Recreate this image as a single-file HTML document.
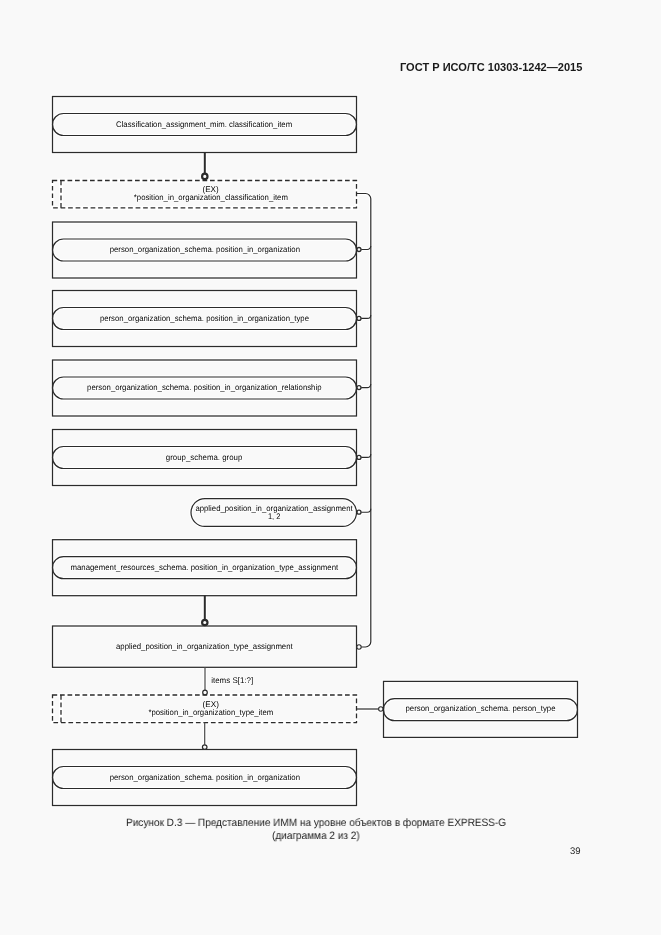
<!DOCTYPE html>
<html><head><meta charset="utf-8"><style>
html,body{margin:0;padding:0;background:#f9f9f9;}
body{width:661px;height:935px;position:relative;overflow:hidden;font-family:"Liberation Sans",sans-serif;}
.hdr{will-change:transform;position:absolute;left:399.9px;top:61.3px;font-size:11.05px;font-weight:bold;color:#1a1a1a;white-space:nowrap;}
.cap{position:absolute;font-size:10px;color:#222;white-space:nowrap;will-change:transform;text-rendering:geometricPrecision;}
svg{position:absolute;left:0;top:0;will-change:transform;}
svg text{font-family:"Liberation Sans",sans-serif;font-size:8.2px;fill:#000;stroke:#fff;stroke-width:1.2px;paint-order:stroke;text-rendering:geometricPrecision;}
</style></head><body>
<svg width="661" height="935" viewBox="0 0 661 935">
<rect x="52.5" y="96.5" width="304.0" height="56.0" fill="none" stroke="#ffffff" stroke-width="3.55"/>
<rect x="52.5" y="113.5" width="304.0" height="22" rx="11" ry="11" fill="none" stroke="#ffffff" stroke-width="3.50"/>
<rect x="52.5" y="222.0" width="304.0" height="56.0" fill="none" stroke="#ffffff" stroke-width="3.55"/>
<rect x="52.5" y="239.0" width="304.0" height="22" rx="11" ry="11" fill="none" stroke="#ffffff" stroke-width="3.50"/>
<rect x="52.5" y="290.5" width="304.0" height="56.0" fill="none" stroke="#ffffff" stroke-width="3.55"/>
<rect x="52.5" y="307.5" width="304.0" height="22" rx="11" ry="11" fill="none" stroke="#ffffff" stroke-width="3.50"/>
<rect x="52.5" y="360.0" width="304.0" height="56.0" fill="none" stroke="#ffffff" stroke-width="3.55"/>
<rect x="52.5" y="377.0" width="304.0" height="22" rx="11" ry="11" fill="none" stroke="#ffffff" stroke-width="3.50"/>
<rect x="52.5" y="429.5" width="304.0" height="56.0" fill="none" stroke="#ffffff" stroke-width="3.55"/>
<rect x="52.5" y="446.5" width="304.0" height="22" rx="11" ry="11" fill="none" stroke="#ffffff" stroke-width="3.50"/>
<rect x="52.5" y="539.7" width="304.0" height="56.0" fill="none" stroke="#ffffff" stroke-width="3.55"/>
<rect x="52.5" y="556.7" width="304.0" height="22" rx="11" ry="11" fill="none" stroke="#ffffff" stroke-width="3.50"/>
<rect x="52.5" y="749.5" width="304.0" height="56.0" fill="none" stroke="#ffffff" stroke-width="3.55"/>
<rect x="52.5" y="766.5" width="304.0" height="22" rx="11" ry="11" fill="none" stroke="#ffffff" stroke-width="3.50"/>
<rect x="52.5" y="626" width="304.0" height="41.3" fill="none" stroke="#ffffff" stroke-width="3.55"/>
<rect x="52.5" y="180.5" width="304.0" height="27.30000000000001" fill="none" stroke="#ffffff" stroke-width="3.60"/>
<line x1="61.0" y1="180.5" x2="61.0" y2="207.8" stroke="#ffffff" stroke-width="3.60"/>
<rect x="52.5" y="695" width="304.0" height="27.600000000000023" fill="none" stroke="#ffffff" stroke-width="3.60"/>
<line x1="61.0" y1="695" x2="61.0" y2="722.6" stroke="#ffffff" stroke-width="3.60"/>
<rect x="191" y="498.6" width="165.5" height="27.8" rx="13.9" ry="13.9" fill="none" stroke="#ffffff" stroke-width="3.50"/>
<line x1="204.8" y1="152.5" x2="204.8" y2="173.5" stroke="#ffffff" stroke-width="4.30"/>
<circle cx="204.8" cy="176.4" r="2.7" fill="#ffffff" stroke="#ffffff" stroke-width="4.50"/>
<line x1="204.8" y1="595.5" x2="204.8" y2="619.6" stroke="#ffffff" stroke-width="4.30"/>
<circle cx="204.8" cy="622.5" r="2.7" fill="#ffffff" stroke="#ffffff" stroke-width="4.50"/>
<line x1="205" y1="667" x2="205" y2="690.2" stroke="#ffffff" stroke-width="3.50"/>
<circle cx="205" cy="692.5" r="2.3" fill="#ffffff" stroke="#ffffff" stroke-width="3.50"/>
<line x1="204.7" y1="722.6" x2="204.7" y2="744.8" stroke="#ffffff" stroke-width="3.50"/>
<circle cx="204.7" cy="747.1" r="2.3" fill="#ffffff" stroke="#ffffff" stroke-width="3.50"/>
<path d="M356.5 193.5 H365.5 A5.3 5.3 0 0 1 370.8 198.8 V641.7 A5.3 5.3 0 0 1 365.5 647 H361.3" fill="none" stroke="#ffffff" stroke-width="3.50"/>
<circle cx="359" cy="647" r="2.2" fill="#ffffff" stroke="#ffffff" stroke-width="3.40"/>
<path d="M361.2 249.5 H367.3 A3.5 3.5 0 0 0 370.8 246.0" fill="none" stroke="#ffffff" stroke-width="3.40"/>
<circle cx="359" cy="249.5" r="2.0" fill="#ffffff" stroke="#ffffff" stroke-width="3.60"/>
<path d="M361.2 318.4 H367.3 A3.5 3.5 0 0 0 370.8 314.9" fill="none" stroke="#ffffff" stroke-width="3.40"/>
<circle cx="359" cy="318.4" r="2.0" fill="#ffffff" stroke="#ffffff" stroke-width="3.60"/>
<path d="M361.2 387.6 H367.3 A3.5 3.5 0 0 0 370.8 384.1" fill="none" stroke="#ffffff" stroke-width="3.40"/>
<circle cx="359" cy="387.6" r="2.0" fill="#ffffff" stroke="#ffffff" stroke-width="3.60"/>
<path d="M361.2 457.4 H367.3 A3.5 3.5 0 0 0 370.8 453.9" fill="none" stroke="#ffffff" stroke-width="3.40"/>
<circle cx="359" cy="457.4" r="2.0" fill="#ffffff" stroke="#ffffff" stroke-width="3.60"/>
<path d="M361.2 512.2 H367.3 A3.5 3.5 0 0 0 370.8 508.70000000000005" fill="none" stroke="#ffffff" stroke-width="3.40"/>
<circle cx="359" cy="512.2" r="2.0" fill="#ffffff" stroke="#ffffff" stroke-width="3.60"/>
<rect x="383.5" y="681.4" width="194" height="56" fill="none" stroke="#ffffff" stroke-width="3.55"/>
<rect x="383.5" y="698.7" width="194" height="22" rx="11" ry="11" fill="none" stroke="#ffffff" stroke-width="3.50"/>
<line x1="356.5" y1="709" x2="378.6" y2="709" stroke="#ffffff" stroke-width="3.50"/>
<circle cx="380.8" cy="709" r="2.2" fill="#ffffff" stroke="#ffffff" stroke-width="3.40"/>
<rect x="52.5" y="96.5" width="304.0" height="56.0" fill="none" stroke="#2b2b2b" stroke-width="1.25"/>
<rect x="52.5" y="113.5" width="304.0" height="22" rx="11" ry="11" fill="none" stroke="#2b2b2b" stroke-width="1.2"/>
<text x="116.00" y="127.1" textLength="176.10" lengthAdjust="spacingAndGlyphs">Classification_assignment_mim. classification_item</text>
<rect x="52.5" y="222.0" width="304.0" height="56.0" fill="none" stroke="#2b2b2b" stroke-width="1.25"/>
<rect x="52.5" y="239.0" width="304.0" height="22" rx="11" ry="11" fill="none" stroke="#2b2b2b" stroke-width="1.2"/>
<text x="109.70" y="251.6" textLength="190.30" lengthAdjust="spacingAndGlyphs">person_organization_schema. position_in_organization</text>
<rect x="52.5" y="290.5" width="304.0" height="56.0" fill="none" stroke="#2b2b2b" stroke-width="1.25"/>
<rect x="52.5" y="307.5" width="304.0" height="22" rx="11" ry="11" fill="none" stroke="#2b2b2b" stroke-width="1.2"/>
<text x="99.90" y="320.8" textLength="209.10" lengthAdjust="spacingAndGlyphs">person_organization_schema. position_in_organization_type</text>
<rect x="52.5" y="360.0" width="304.0" height="56.0" fill="none" stroke="#2b2b2b" stroke-width="1.25"/>
<rect x="52.5" y="377.0" width="304.0" height="22" rx="11" ry="11" fill="none" stroke="#2b2b2b" stroke-width="1.2"/>
<text x="87.10" y="390.0" textLength="234.40" lengthAdjust="spacingAndGlyphs">person_organization_schema. position_in_organization_relationship</text>
<rect x="52.5" y="429.5" width="304.0" height="56.0" fill="none" stroke="#2b2b2b" stroke-width="1.25"/>
<rect x="52.5" y="446.5" width="304.0" height="22" rx="11" ry="11" fill="none" stroke="#2b2b2b" stroke-width="1.2"/>
<text x="165.80" y="459.8" textLength="76.50" lengthAdjust="spacingAndGlyphs">group_schema. group</text>
<rect x="52.5" y="539.7" width="304.0" height="56.0" fill="none" stroke="#2b2b2b" stroke-width="1.25"/>
<rect x="52.5" y="556.7" width="304.0" height="22" rx="11" ry="11" fill="none" stroke="#2b2b2b" stroke-width="1.2"/>
<text x="70.50" y="570.3000000000001" textLength="267.70" lengthAdjust="spacingAndGlyphs">management_resources_schema. position_in_organization_type_assignment</text>
<rect x="52.5" y="749.5" width="304.0" height="56.0" fill="none" stroke="#2b2b2b" stroke-width="1.25"/>
<rect x="52.5" y="766.5" width="304.0" height="22" rx="11" ry="11" fill="none" stroke="#2b2b2b" stroke-width="1.2"/>
<text x="109.70" y="779.9" textLength="190.30" lengthAdjust="spacingAndGlyphs">person_organization_schema. position_in_organization</text>
<rect x="52.5" y="626" width="304.0" height="41.3" fill="none" stroke="#2b2b2b" stroke-width="1.25"/>
<text x="116.00" y="649.4" textLength="176.70" lengthAdjust="spacingAndGlyphs">applied_position_in_organization_type_assignment</text>
<rect x="52.5" y="180.5" width="304.0" height="27.30000000000001" fill="none" stroke="#2b2b2b" stroke-width="1.3" stroke-dasharray="4.7 2.8"/>
<line x1="61.0" y1="180.5" x2="61.0" y2="207.8" stroke="#2b2b2b" stroke-width="1.3" stroke-dasharray="4.7 2.8"/>
<text x="202.50" y="191.7" textLength="16.20" lengthAdjust="spacingAndGlyphs">(EX)</text>
<text x="133.80" y="200.35" textLength="154.10" lengthAdjust="spacingAndGlyphs">*position_in_organization_classification_item</text>
<rect x="52.5" y="695" width="304.0" height="27.600000000000023" fill="none" stroke="#2b2b2b" stroke-width="1.3" stroke-dasharray="4.7 2.8"/>
<line x1="61.0" y1="695" x2="61.0" y2="722.6" stroke="#2b2b2b" stroke-width="1.3" stroke-dasharray="4.7 2.8"/>
<text x="202.60" y="707.1" textLength="16.30" lengthAdjust="spacingAndGlyphs">(EX)</text>
<text x="148.40" y="715.35" textLength="124.90" lengthAdjust="spacingAndGlyphs">*position_in_organization_type_item</text>
<rect x="191" y="498.6" width="165.5" height="27.8" rx="13.9" ry="13.9" fill="none" stroke="#2b2b2b" stroke-width="1.2"/>
<text x="195.40" y="510.6" textLength="157.30" lengthAdjust="spacingAndGlyphs">applied_position_in_organization_assignment</text>
<text x="267.90" y="519.2" textLength="12.50" lengthAdjust="spacingAndGlyphs">1, 2</text>
<line x1="204.8" y1="152.5" x2="204.8" y2="173.5" stroke="#2b2b2b" stroke-width="2"/>
<circle cx="204.8" cy="176.4" r="2.7" fill="#f9f9f9" stroke="#2b2b2b" stroke-width="2.2"/>
<line x1="204.8" y1="595.5" x2="204.8" y2="619.6" stroke="#2b2b2b" stroke-width="2"/>
<circle cx="204.8" cy="622.5" r="2.7" fill="#f9f9f9" stroke="#2b2b2b" stroke-width="2.2"/>
<line x1="205" y1="667" x2="205" y2="690.2" stroke="#4a4a4a" stroke-width="1.2"/>
<circle cx="205" cy="692.5" r="2.3" fill="#f9f9f9" stroke="#2b2b2b" stroke-width="1.2"/>
<line x1="204.7" y1="722.6" x2="204.7" y2="744.8" stroke="#4a4a4a" stroke-width="1.2"/>
<circle cx="204.7" cy="747.1" r="2.3" fill="#f9f9f9" stroke="#2b2b2b" stroke-width="1.2"/>
<text x="211.20" y="683.1" textLength="42.00" lengthAdjust="spacingAndGlyphs">items S[1:?]</text>
<path d="M356.5 193.5 H365.5 A5.3 5.3 0 0 1 370.8 198.8 V641.7 A5.3 5.3 0 0 1 365.5 647 H361.3" fill="none" stroke="#2b2b2b" stroke-width="1.2"/>
<circle cx="359" cy="647" r="2.2" fill="#f9f9f9" stroke="#2b2b2b" stroke-width="1.1"/>
<path d="M361.2 249.5 H367.3 A3.5 3.5 0 0 0 370.8 246.0" fill="none" stroke="#2b2b2b" stroke-width="1.1"/>
<circle cx="359" cy="249.5" r="2.0" fill="#f9f9f9" stroke="#2b2b2b" stroke-width="1.3"/>
<path d="M361.2 318.4 H367.3 A3.5 3.5 0 0 0 370.8 314.9" fill="none" stroke="#2b2b2b" stroke-width="1.1"/>
<circle cx="359" cy="318.4" r="2.0" fill="#f9f9f9" stroke="#2b2b2b" stroke-width="1.3"/>
<path d="M361.2 387.6 H367.3 A3.5 3.5 0 0 0 370.8 384.1" fill="none" stroke="#2b2b2b" stroke-width="1.1"/>
<circle cx="359" cy="387.6" r="2.0" fill="#f9f9f9" stroke="#2b2b2b" stroke-width="1.3"/>
<path d="M361.2 457.4 H367.3 A3.5 3.5 0 0 0 370.8 453.9" fill="none" stroke="#2b2b2b" stroke-width="1.1"/>
<circle cx="359" cy="457.4" r="2.0" fill="#f9f9f9" stroke="#2b2b2b" stroke-width="1.3"/>
<path d="M361.2 512.2 H367.3 A3.5 3.5 0 0 0 370.8 508.70000000000005" fill="none" stroke="#2b2b2b" stroke-width="1.1"/>
<circle cx="359" cy="512.2" r="2.0" fill="#f9f9f9" stroke="#2b2b2b" stroke-width="1.3"/>
<rect x="383.5" y="681.4" width="194" height="56" fill="none" stroke="#2b2b2b" stroke-width="1.25"/>
<rect x="383.5" y="698.7" width="194" height="22" rx="11" ry="11" fill="none" stroke="#2b2b2b" stroke-width="1.2"/>
<text x="405.50" y="711.3" textLength="150.00" lengthAdjust="spacingAndGlyphs">person_organization_schema. person_type</text>
<line x1="356.5" y1="709" x2="378.6" y2="709" stroke="#2b2b2b" stroke-width="1.2"/>
<circle cx="380.8" cy="709" r="2.2" fill="#f9f9f9" stroke="#2b2b2b" stroke-width="1.1"/>
</svg>
<div class="hdr">ГОСТ Р ИСО/ТС 10303-1242—2015</div>
<div class="cap" style="left:125.6px;top:817.2px;font-size:10.7px;transform:scaleX(0.94);transform-origin:0 0">Рисунок D.3 — Представление ИММ на уровне объектов в формате EXPRESS-G</div>
<div class="cap" style="left:271.6px;top:830.2px;font-size:10.7px;transform:scaleX(0.94);transform-origin:0 0">(диаграмма 2 из 2)</div>
<div class="cap" style="left:570.4px;top:845.6px;font-size:9.5px">39</div>
</body></html>
